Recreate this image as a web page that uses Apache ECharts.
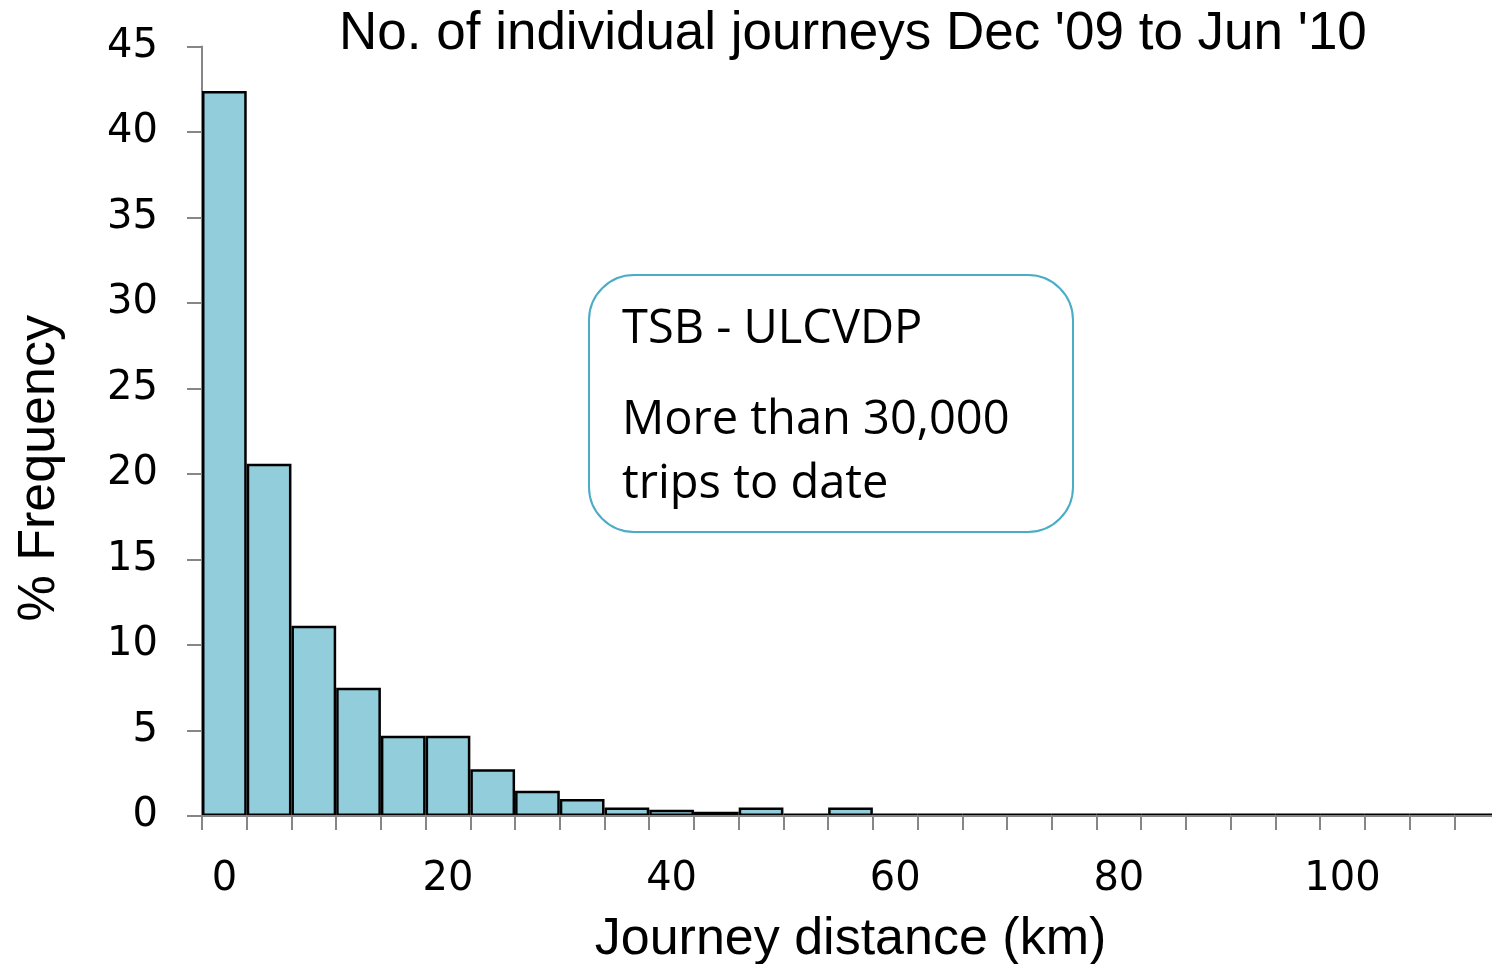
<!DOCTYPE html>
<html>
<head>
<meta charset="utf-8">
<script src="https://cdn.jsdelivr.net/npm/echarts@6/dist/echarts.min.js"></script>
<style>
  html, body { margin: 0; padding: 0; background: #fff; overflow: hidden; }
  #main { width: 1492px; height: 964px; }
</style>
</head>
<body>
<div id="main"></div>
<script>
// bin centres (km), 4 km wide bins
const distances = [0, 4, 8, 12, 16, 20, 24, 28, 32, 36, 40, 44, 48, 52, 56, 60, 64, 68, 72, 76, 80, 84, 88, 92, 96, 100, 104, 108, 112]
// % frequency per bin
const frequency = [42.4, 20.6, 11.13, 7.5, 4.69, 4.69, 2.74, 1.48, 1.0, 0.49, 0.37, 0.25, 0.49, 0.15, 0.49,
  0.15, 0.15, 0.15, 0.15, 0.15, 0.15, 0.15, 0.15, 0.15, 0.15, 0.15, 0.15, 0.15, 0.15]
const titleText = "No. of individual journeys Dec '09 to Jun '10"
const boxLines = ['TSB - ULCVDP', 'More than 30,000', 'trips to date']

const myChart = echarts.init(document.getElementById('main'))
const axisGray = '#868686'
const nameFont = '"Liberation Sans", sans-serif'

const option = {
  animation: false,
  title: {
    text: titleText,
    left: 334,
    top: 3,
    textStyle: { fontFamily: nameFont, fontSize: 53, fontWeight: 'normal', color: '#000' }
  },
  grid: { left: 202, right: -7, top: 46.5, bottom: 148, outerBoundsMode: 'none', containLabel: false },
  xAxis: {
    type: 'category',
    data: distances,
    z: 3,
    name: 'Journey distance (km)',
    nameLocation: 'middle',
    nameGap: 98,
    nameTextStyle: { fontFamily: nameFont, fontSize: 52, color: '#000' },
    axisLine: { lineStyle: { color: axisGray, width: 2 } },
    axisTick: { show: true, interval: 0, length: 14, lineStyle: { color: axisGray, width: 2 } },
    axisLabel: { interval: 4, margin: 44, fontFamily: 'DejaVu Sans', fontSize: 40, color: '#000' }
  },
  yAxis: {
    type: 'value',
    min: 0,
    max: 45,
    interval: 5,
    name: '% Frequency',
    nameLocation: 'middle',
    nameGap: 136,
    nameTextStyle: { fontFamily: nameFont, fontSize: 52, color: '#000', padding: [0, 74, 0, 0] },
    splitLine: { show: false },
    axisLine: { show: true, lineStyle: { color: axisGray, width: 2 } },
    axisTick: { show: true, length: 15, lineStyle: { color: axisGray, width: 2 } },
    axisLabel: { margin: 44, fontFamily: 'DejaVu Sans', fontSize: 40, color: '#000' }
  },
  series: [
    {
      type: 'bar',
      data: frequency,
      barCategoryGap: 0,
      itemStyle: { color: '#92CDDC', borderColor: '#000', borderWidth: 2.5 }
    }
  ],
  graphic: [
    {
      type: 'group',
      left: 588,
      top: 274,
      children: [
        {
          type: 'rect',
          shape: { x: 0, y: 0, width: 484, height: 257, r: 45 },
          style: { fill: '#fff', stroke: '#4BACC6', lineWidth: 2 }
        },
        {
          type: 'text',
          left: 33,
          top: 31,
          style: { text: boxLines[0], font: '47px "Open Sans", sans-serif', fill: '#000' }
        },
        {
          type: 'text',
          left: 33,
          top: 114,
          style: {
            text: boxLines[1] + '\n' + boxLines[2],
            font: '47px "Open Sans", sans-serif',
            lineHeight: 64,
            fill: '#000'
          }
        }
      ]
    }
  ]
}

option && myChart.setOption(option)
</script>
</body>
</html>
